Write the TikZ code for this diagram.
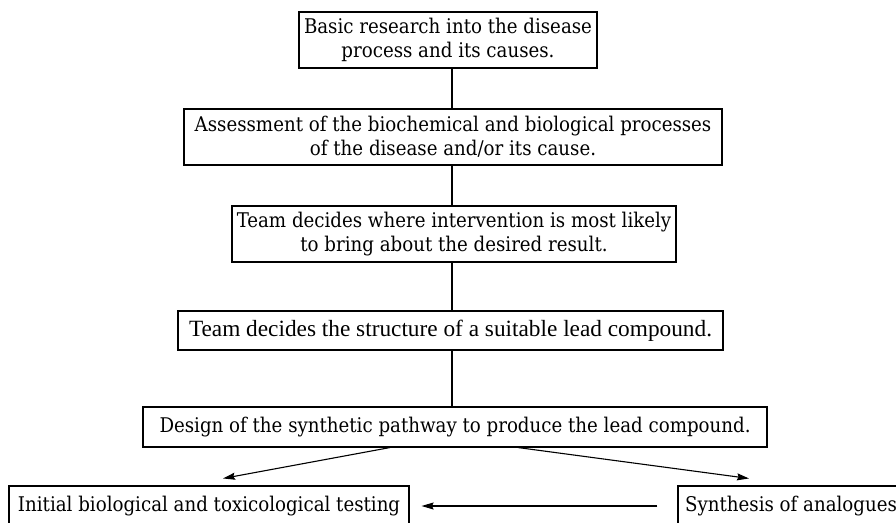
\documentclass[tikz,border=0pt]{standalone}
\usepackage{fontspec}
\setmainfont{DejaVu Serif Condensed}
\newfontfamily\timesfont{Liberation Serif}
\usetikzlibrary{arrows.meta}
\newlength\reflen
\tikzset{
  box/.style={draw, line width=1.1pt, inner sep=0pt, align=center,
    font=\fontsize{\mainsize pt}{24pt}\selectfont},
  tbox/.style={box, font=\timesfont\fontsize{\timessize pt}{24pt}\selectfont},
  link/.style={line width=1.1pt},
  arr/.style={line width=1.1pt, -{Stealth[length=12pt,width=7pt,inset=1.5pt]}}
}
\begin{document}
\settowidth\reflen{\fontsize{10pt}{12pt}\selectfont Design of the synthetic pathway to produce the lead compound.}%
\pgfmathsetmacro\mainsize{10*591/\reflen}%
\settowidth\reflen{\timesfont\fontsize{10pt}{12pt}\selectfont Team decides the structure of a suitable lead compound.}%
\pgfmathsetmacro\timessize{10*523/\reflen}%
\begin{tikzpicture}[x=1pt,y=-1pt]
\useasboundingbox (0,0) rectangle (896,522);
\clip (0,0) rectangle (896,522);
\coordinate (axis) at (452,0);
\node[box, minimum width=298pt, minimum height=56pt] (b1) at (448,40) {Basic research into the disease\\process and its causes.};
\node[box, minimum width=538pt, minimum height=56pt] (b2) at (453,137) {Assessment of the biochemical and biological processes\\of the disease and/or its cause.};
\node[box, minimum width=444pt, minimum height=56pt] (b3) at (454,234) {Team decides where intervention is most likely\\to bring about the desired result.};
\node[tbox, minimum width=545pt, minimum height=39pt] (b4) at (450.5,330.5) {Team decides the structure of a suitable lead compound.};
\node[box, minimum width=624pt, minimum height=40pt] (b5) at (455,427) {Design of the synthetic pathway to produce the lead compound.};
\node[box, minimum width=400pt, minimum height=40pt] (lb) at (209,506) {Initial biological and toxicological testing};
\node[box, minimum width=226pt, minimum height=40pt] (rb) at (791,506) {Synthesis of analogues};
\draw[link] (axis |- b1.south) -- (axis |- b2.north);
\draw[link] (axis |- b2.south) -- (axis |- b3.north);
\draw[link] (axis |- b3.south) -- (axis |- b4.north);
\draw[link] (axis |- b4.south) -- (axis |- b5.north);
\draw[arr] ([xshift=-65pt]b5.south) -- ([xshift=14pt,yshift=7pt]lb.north);
\draw[arr] ([xshift=63pt]b5.south) -- ([xshift=-42pt,yshift=7pt]rb.north);
\draw[arr, shorten <=20pt, shorten >=12pt] (rb.west) -- (lb.east);
\end{tikzpicture}
\end{document}
